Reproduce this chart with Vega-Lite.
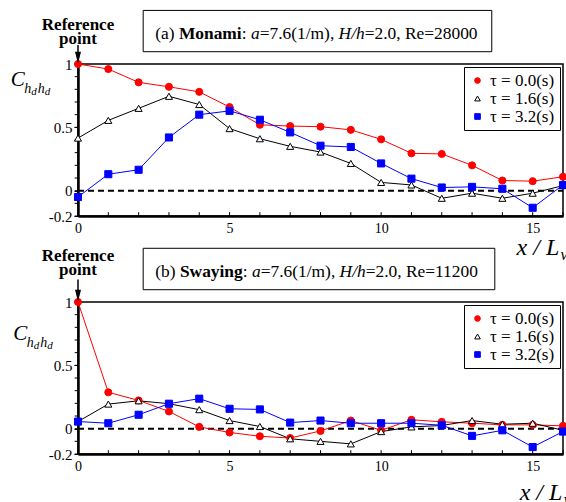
{
  "$schema": "https://vega.github.io/schema/vega-lite/v6.json",
  "padding": {"left": 9, "top": 9, "right": 0, "bottom": 0},
  "config": {
    "font": "Liberation Serif",
    "view": {"stroke": "black", "strokeWidth": 1.5},
    "axis": {"labelFont": "Liberation Serif", "labelColor": "black", "domainColor": "black", "tickColor": "black", "grid": false, "title": null, "domainWidth": 2.5, "labelFlush": false},
    "legend": {"strokeColor": "black", "fillColor": "white", "padding": 5, "labelFont": "Liberation Serif", "labelFontSize": 17, "labelColor": "black", "symbolSize": 32, "symbolStrokeWidth": 1, "rowPadding": 0}
  },
  "datasets": {
    "one": [{}],
    "xticks": [{"v": 0}, {"v": 1}, {"v": 2}, {"v": 3}, {"v": 4}, {"v": 5}, {"v": 6}, {"v": 7}, {"v": 8}, {"v": 9}, {"v": 10}, {"v": 11}, {"v": 12}, {"v": 13}, {"v": 14}, {"v": 15}, {"v": 16}],
    "yticks": [{"v": -0.2}, {"v": -0.1}, {"v": 0}, {"v": 0.1}, {"v": 0.2}, {"v": 0.3}, {"v": 0.4}, {"v": 0.5}, {"v": 0.6}, {"v": 0.7}, {"v": 0.8}, {"v": 0.9}, {"v": 1}],
    "curves": [
      {"panel": "a", "series": "τ = 0.0(s)", "x": 0, "y": 1.0},
      {"panel": "a", "series": "τ = 0.0(s)", "x": 1, "y": 0.96},
      {"panel": "a", "series": "τ = 0.0(s)", "x": 2, "y": 0.855},
      {"panel": "a", "series": "τ = 0.0(s)", "x": 3, "y": 0.82},
      {"panel": "a", "series": "τ = 0.0(s)", "x": 4, "y": 0.78},
      {"panel": "a", "series": "τ = 0.0(s)", "x": 5, "y": 0.66},
      {"panel": "a", "series": "τ = 0.0(s)", "x": 6, "y": 0.52},
      {"panel": "a", "series": "τ = 0.0(s)", "x": 7, "y": 0.51},
      {"panel": "a", "series": "τ = 0.0(s)", "x": 8, "y": 0.505},
      {"panel": "a", "series": "τ = 0.0(s)", "x": 9, "y": 0.48},
      {"panel": "a", "series": "τ = 0.0(s)", "x": 10, "y": 0.405},
      {"panel": "a", "series": "τ = 0.0(s)", "x": 11, "y": 0.295},
      {"panel": "a", "series": "τ = 0.0(s)", "x": 12, "y": 0.29},
      {"panel": "a", "series": "τ = 0.0(s)", "x": 13, "y": 0.2},
      {"panel": "a", "series": "τ = 0.0(s)", "x": 14, "y": 0.08},
      {"panel": "a", "series": "τ = 0.0(s)", "x": 15, "y": 0.075},
      {"panel": "a", "series": "τ = 0.0(s)", "x": 16, "y": 0.11},
      {"panel": "a", "series": "τ = 1.6(s)", "x": 0, "y": 0.415},
      {"panel": "a", "series": "τ = 1.6(s)", "x": 1, "y": 0.555},
      {"panel": "a", "series": "τ = 1.6(s)", "x": 2, "y": 0.65},
      {"panel": "a", "series": "τ = 1.6(s)", "x": 3, "y": 0.745},
      {"panel": "a", "series": "τ = 1.6(s)", "x": 4, "y": 0.68},
      {"panel": "a", "series": "τ = 1.6(s)", "x": 5, "y": 0.49},
      {"panel": "a", "series": "τ = 1.6(s)", "x": 6, "y": 0.41},
      {"panel": "a", "series": "τ = 1.6(s)", "x": 7, "y": 0.35},
      {"panel": "a", "series": "τ = 1.6(s)", "x": 8, "y": 0.305},
      {"panel": "a", "series": "τ = 1.6(s)", "x": 9, "y": 0.215},
      {"panel": "a", "series": "τ = 1.6(s)", "x": 10, "y": 0.065},
      {"panel": "a", "series": "τ = 1.6(s)", "x": 11, "y": 0.045},
      {"panel": "a", "series": "τ = 1.6(s)", "x": 12, "y": -0.06},
      {"panel": "a", "series": "τ = 1.6(s)", "x": 13, "y": -0.02},
      {"panel": "a", "series": "τ = 1.6(s)", "x": 14, "y": -0.06},
      {"panel": "a", "series": "τ = 1.6(s)", "x": 15, "y": -0.02},
      {"panel": "a", "series": "τ = 1.6(s)", "x": 16, "y": 0.04},
      {"panel": "a", "series": "τ = 3.2(s)", "x": 0, "y": -0.05},
      {"panel": "a", "series": "τ = 3.2(s)", "x": 1, "y": 0.13},
      {"panel": "a", "series": "τ = 3.2(s)", "x": 2, "y": 0.165},
      {"panel": "a", "series": "τ = 3.2(s)", "x": 3, "y": 0.42},
      {"panel": "a", "series": "τ = 3.2(s)", "x": 4, "y": 0.6},
      {"panel": "a", "series": "τ = 3.2(s)", "x": 5, "y": 0.63},
      {"panel": "a", "series": "τ = 3.2(s)", "x": 6, "y": 0.56},
      {"panel": "a", "series": "τ = 3.2(s)", "x": 7, "y": 0.46},
      {"panel": "a", "series": "τ = 3.2(s)", "x": 8, "y": 0.355},
      {"panel": "a", "series": "τ = 3.2(s)", "x": 9, "y": 0.345},
      {"panel": "a", "series": "τ = 3.2(s)", "x": 10, "y": 0.215},
      {"panel": "a", "series": "τ = 3.2(s)", "x": 11, "y": 0.095},
      {"panel": "a", "series": "τ = 3.2(s)", "x": 12, "y": 0.025},
      {"panel": "a", "series": "τ = 3.2(s)", "x": 13, "y": 0.03},
      {"panel": "a", "series": "τ = 3.2(s)", "x": 14, "y": 0.015},
      {"panel": "a", "series": "τ = 3.2(s)", "x": 15, "y": -0.135},
      {"panel": "a", "series": "τ = 3.2(s)", "x": 16, "y": 0.045},
      {"panel": "b", "series": "τ = 0.0(s)", "x": 0, "y": 1.0},
      {"panel": "b", "series": "τ = 0.0(s)", "x": 1, "y": 0.287},
      {"panel": "b", "series": "τ = 0.0(s)", "x": 2, "y": 0.223},
      {"panel": "b", "series": "τ = 0.0(s)", "x": 3, "y": 0.136},
      {"panel": "b", "series": "τ = 0.0(s)", "x": 4, "y": 0.014},
      {"panel": "b", "series": "τ = 0.0(s)", "x": 5, "y": -0.03},
      {"panel": "b", "series": "τ = 0.0(s)", "x": 6, "y": -0.06},
      {"panel": "b", "series": "τ = 0.0(s)", "x": 7, "y": -0.074},
      {"panel": "b", "series": "τ = 0.0(s)", "x": 8, "y": -0.018},
      {"panel": "b", "series": "τ = 0.0(s)", "x": 9, "y": 0.064},
      {"panel": "b", "series": "τ = 0.0(s)", "x": 10, "y": -0.013},
      {"panel": "b", "series": "τ = 0.0(s)", "x": 11, "y": 0.07},
      {"panel": "b", "series": "τ = 0.0(s)", "x": 12, "y": 0.054},
      {"panel": "b", "series": "τ = 0.0(s)", "x": 13, "y": 0.043},
      {"panel": "b", "series": "τ = 0.0(s)", "x": 14, "y": 0.03},
      {"panel": "b", "series": "τ = 0.0(s)", "x": 15, "y": 0.03},
      {"panel": "b", "series": "τ = 0.0(s)", "x": 16, "y": 0.022},
      {"panel": "b", "series": "τ = 1.6(s)", "x": 0, "y": 0.056},
      {"panel": "b", "series": "τ = 1.6(s)", "x": 1, "y": 0.194},
      {"panel": "b", "series": "τ = 1.6(s)", "x": 2, "y": 0.22},
      {"panel": "b", "series": "τ = 1.6(s)", "x": 3, "y": 0.197},
      {"panel": "b", "series": "τ = 1.6(s)", "x": 4, "y": 0.15},
      {"panel": "b", "series": "τ = 1.6(s)", "x": 5, "y": 0.064},
      {"panel": "b", "series": "τ = 1.6(s)", "x": 6, "y": 0.017},
      {"panel": "b", "series": "τ = 1.6(s)", "x": 7, "y": -0.08},
      {"panel": "b", "series": "τ = 1.6(s)", "x": 8, "y": -0.1},
      {"panel": "b", "series": "τ = 1.6(s)", "x": 9, "y": -0.12},
      {"panel": "b", "series": "τ = 1.6(s)", "x": 10, "y": -0.023},
      {"panel": "b", "series": "τ = 1.6(s)", "x": 11, "y": 0.014},
      {"panel": "b", "series": "τ = 1.6(s)", "x": 12, "y": 0.025},
      {"panel": "b", "series": "τ = 1.6(s)", "x": 13, "y": 0.064},
      {"panel": "b", "series": "τ = 1.6(s)", "x": 14, "y": 0.035},
      {"panel": "b", "series": "τ = 1.6(s)", "x": 15, "y": 0.043},
      {"panel": "b", "series": "τ = 1.6(s)", "x": 16, "y": -0.013},
      {"panel": "b", "series": "τ = 3.2(s)", "x": 0, "y": 0.056},
      {"panel": "b", "series": "τ = 3.2(s)", "x": 1, "y": 0.043},
      {"panel": "b", "series": "τ = 3.2(s)", "x": 2, "y": 0.11},
      {"panel": "b", "series": "τ = 3.2(s)", "x": 3, "y": 0.197},
      {"panel": "b", "series": "τ = 3.2(s)", "x": 4, "y": 0.237},
      {"panel": "b", "series": "τ = 3.2(s)", "x": 5, "y": 0.157},
      {"panel": "b", "series": "τ = 3.2(s)", "x": 6, "y": 0.152},
      {"panel": "b", "series": "τ = 3.2(s)", "x": 7, "y": 0.048},
      {"panel": "b", "series": "τ = 3.2(s)", "x": 8, "y": 0.064},
      {"panel": "b", "series": "τ = 3.2(s)", "x": 9, "y": 0.043},
      {"panel": "b", "series": "τ = 3.2(s)", "x": 10, "y": 0.043},
      {"panel": "b", "series": "τ = 3.2(s)", "x": 11, "y": 0.043},
      {"panel": "b", "series": "τ = 3.2(s)", "x": 12, "y": 0.027},
      {"panel": "b", "series": "τ = 3.2(s)", "x": 13, "y": -0.057},
      {"panel": "b", "series": "τ = 3.2(s)", "x": 14, "y": -0.013},
      {"panel": "b", "series": "τ = 3.2(s)", "x": 15, "y": -0.145},
      {"panel": "b", "series": "τ = 3.2(s)", "x": 16, "y": -0.023}
    ]
  },
  "spacing": 86,
  "bounds": "flush",
  "resolve": {
    "scale": {"x": "independent", "y": "independent", "color": "independent", "fill": "independent", "stroke": "independent", "shape": "independent"},
    "legend": {"color": "independent", "fill": "independent", "stroke": "independent", "shape": "independent"}
  },
  "vconcat": [
    {
      "width": 485,
      "height": 152,
      "layer": [
        {"data": {"name": "one"}, "mark": {"type": "rule", "stroke": "black", "strokeWidth": 2, "strokeDash": [6, 4]},
         "encoding": {"x": {"datum": 0}, "x2": {"datum": 16}, "y": {"datum": 0}}},
        {"data": {"name": "xticks"}, "mark": {"type": "rule", "stroke": "black", "strokeWidth": 1},
         "encoding": {"x": {"field": "v", "type": "quantitative"}, "y": {"datum": -0.2}, "y2": {"datum": -0.17}}},
        {"data": {"name": "yticks"}, "mark": {"type": "rule", "stroke": "black", "strokeWidth": 1, "clip": false},
         "encoding": {"y": {"field": "v", "type": "quantitative"}, "x": {"datum": 0}, "x2": {"datum": -0.11}}},
        {"data": {"name": "curves"}, "transform": [{"filter": "datum.panel == 'a'"}],
         "mark": {"type": "line", "strokeWidth": 1, "clip": false},
         "encoding": {
           "x": {"field": "x", "type": "quantitative", "scale": {"domain": [0, 16], "nice": false, "zero": false},
                 "axis": {"values": [0, 5, 10, 15], "ticks": false, "labelFontSize": 14, "labelPadding": 5}},
           "y": {"field": "y", "type": "quantitative", "scale": {"domain": [-0.2, 1], "nice": false, "zero": false},
                 "axis": {"values": [-0.2, 0, 0.5, 1], "labelExpr": "datum.value < -0.1 ? '-0.2' : datum.value < 0.2 ? '0' : datum.value < 0.7 ? '0.5' : '1'", "tickSize": 4, "labelFontSize": 15, "labelPadding": 2}},
           "color": {"field": "series", "type": "nominal", "scale": {"domain": ["τ = 3.2(s)", "τ = 1.6(s)", "τ = 0.0(s)"], "range": ["#0000ff", "#000000", "#ff0000"]}, "legend": null}
         }},
        {"data": {"name": "curves"}, "transform": [{"filter": "datum.panel == 'a'"}],
         "mark": {"type": "point", "filled": true, "strokeWidth": 1, "size": 50, "opacity": 1, "clip": false},
         "encoding": {
           "x": {"field": "x", "type": "quantitative"},
           "y": {"field": "y", "type": "quantitative"},
           "fill": {"field": "series", "type": "nominal", "title": null, "scale": {"domain": ["τ = 0.0(s)", "τ = 1.6(s)", "τ = 3.2(s)"], "range": ["#ff0000", "#ffffff", "#0000ff"]}, "legend": {"orient": "top-right", "offset": 3, "title": null}},
           "stroke": {"field": "series", "type": "nominal", "title": null, "scale": {"domain": ["τ = 0.0(s)", "τ = 1.6(s)", "τ = 3.2(s)"], "range": ["#ff0000", "#000000", "#0000ff"]}, "legend": {"orient": "top-right", "offset": 3, "title": null}},
           "shape": {"field": "series", "type": "nominal", "title": null, "scale": {"domain": ["τ = 0.0(s)", "τ = 1.6(s)", "τ = 3.2(s)"], "range": ["circle", "triangle-up", "square"]}, "legend": {"orient": "top-right", "offset": 3, "title": null}}
         }},
        {"data": {"name": "one"}, "mark": {"type": "rect", "filled": false, "stroke": "black", "strokeWidth": 1, "clip": false},
         "encoding": {"x": {"datum": 2.15}, "x2": {"datum": 13.65}, "y": {"datum": 1.423}, "y2": {"datum": 1.097}}},
        {"data": {"name": "one"}, "mark": {"type": "text", "text": "(a) ", "align": "left", "baseline": "alphabetic", "fontSize": 17.4, "dx": 0},
         "encoding": {"x": {"datum": 2.55}, "y": {"datum": 1.2}}},
        {"data": {"name": "one"}, "mark": {"type": "text", "text": "Monami", "align": "left", "baseline": "alphabetic", "fontSize": 17.4, "fontWeight": "bold", "dx": 23.6},
         "encoding": {"x": {"datum": 2.55}, "y": {"datum": 1.2}}},
        {"data": {"name": "one"}, "mark": {"type": "text", "text": ": ", "align": "left", "baseline": "alphabetic", "fontSize": 17.4, "dx": 86.5},
         "encoding": {"x": {"datum": 2.55}, "y": {"datum": 1.2}}},
        {"data": {"name": "one"}, "mark": {"type": "text", "text": "a", "align": "left", "baseline": "alphabetic", "fontSize": 17.4, "fontStyle": "italic", "dx": 95.7},
         "encoding": {"x": {"datum": 2.55}, "y": {"datum": 1.2}}},
        {"data": {"name": "one"}, "mark": {"type": "text", "text": "=7.6(1/m), ", "align": "left", "baseline": "alphabetic", "fontSize": 17.4, "dx": 104.4},
         "encoding": {"x": {"datum": 2.55}, "y": {"datum": 1.2}}},
        {"data": {"name": "one"}, "mark": {"type": "text", "text": "H/h", "align": "left", "baseline": "alphabetic", "fontSize": 17.4, "fontStyle": "italic", "dx": 183.3},
         "encoding": {"x": {"datum": 2.55}, "y": {"datum": 1.2}}},
        {"data": {"name": "one"}, "mark": {"type": "text", "text": "=2.0, Re=28000", "align": "left", "baseline": "alphabetic", "fontSize": 17.4, "dx": 209.4},
         "encoding": {"x": {"datum": 2.55}, "y": {"datum": 1.2}}},
        {"data": {"name": "one"}, "mark": {"type": "text", "text": ["Reference", "point"], "lineHeight": 14, "align": "center", "baseline": "alphabetic", "fontSize": 17, "fontWeight": "bold"},
         "encoding": {"x": {"datum": 0}, "y": {"datum": 1.272}}},
        {"data": {"name": "one"}, "mark": {"type": "rule", "stroke": "black", "strokeWidth": 1.5},
         "encoding": {"x": {"datum": 0}, "y": {"datum": 1.15}, "y2": {"datum": 1.05}}},
        {"data": {"name": "one"}, "mark": {"type": "point", "shape": "M-0.5,-1L0.5,-1L0,1Z", "filled": true, "fill": "black", "stroke": null, "size": 144, "opacity": 1, "clip": false},
         "encoding": {"x": {"datum": 0}, "y": {"datum": 1.05}}},
        {"data": {"name": "one"}, "mark": {"type": "text", "text": "C", "align": "left", "baseline": "alphabetic", "fontSize": 21, "fontStyle": "italic"},
         "encoding": {"x": {"datum": -2.22}, "y": {"datum": 0.827}}},
        {"data": {"name": "one"}, "mark": {"type": "text", "text": "h", "align": "left", "baseline": "alphabetic", "fontSize": 14, "fontStyle": "italic", "dx": 13.5, "dy": 7},
         "encoding": {"x": {"datum": -2.22}, "y": {"datum": 0.827}}},
        {"data": {"name": "one"}, "mark": {"type": "text", "text": "d", "align": "left", "baseline": "alphabetic", "fontSize": 11, "fontStyle": "italic", "dx": 20.5, "dy": 9},
         "encoding": {"x": {"datum": -2.22}, "y": {"datum": 0.827}}},
        {"data": {"name": "one"}, "mark": {"type": "text", "text": "h", "align": "left", "baseline": "alphabetic", "fontSize": 14, "fontStyle": "italic", "dx": 27, "dy": 7},
         "encoding": {"x": {"datum": -2.22}, "y": {"datum": 0.827}}},
        {"data": {"name": "one"}, "mark": {"type": "text", "text": "d", "align": "left", "baseline": "alphabetic", "fontSize": 11, "fontStyle": "italic", "dx": 34, "dy": 9},
         "encoding": {"x": {"datum": -2.22}, "y": {"datum": 0.827}}},
        {"data": {"name": "one"}, "mark": {"type": "text", "text": "x / L", "align": "left", "baseline": "alphabetic", "fontSize": 24, "fontStyle": "italic"},
         "encoding": {"x": {"datum": 14.47}, "y": {"datum": -0.51}}},
        {"data": {"name": "one"}, "mark": {"type": "text", "text": "v", "align": "left", "baseline": "alphabetic", "fontSize": 16, "fontStyle": "italic", "dx": 44, "dy": 5},
         "encoding": {"x": {"datum": 14.47}, "y": {"datum": -0.51}}}
      ]
    },
    {
      "width": 485,
      "height": 152,
      "layer": [
        {"data": {"name": "one"}, "mark": {"type": "rule", "stroke": "black", "strokeWidth": 2, "strokeDash": [6, 4]},
         "encoding": {"x": {"datum": 0}, "x2": {"datum": 16}, "y": {"datum": 0}}},
        {"data": {"name": "xticks"}, "mark": {"type": "rule", "stroke": "black", "strokeWidth": 1},
         "encoding": {"x": {"field": "v", "type": "quantitative"}, "y": {"datum": -0.2}, "y2": {"datum": -0.17}}},
        {"data": {"name": "yticks"}, "mark": {"type": "rule", "stroke": "black", "strokeWidth": 1, "clip": false},
         "encoding": {"y": {"field": "v", "type": "quantitative"}, "x": {"datum": 0}, "x2": {"datum": -0.11}}},
        {"data": {"name": "curves"}, "transform": [{"filter": "datum.panel == 'b'"}],
         "mark": {"type": "line", "strokeWidth": 1, "clip": false},
         "encoding": {
           "x": {"field": "x", "type": "quantitative", "scale": {"domain": [0, 16], "nice": false, "zero": false},
                 "axis": {"values": [0, 5, 10, 15], "ticks": false, "labelFontSize": 14, "labelPadding": 5}},
           "y": {"field": "y", "type": "quantitative", "scale": {"domain": [-0.2, 1], "nice": false, "zero": false},
                 "axis": {"values": [-0.2, 0, 0.5, 1], "labelExpr": "datum.value < -0.1 ? '-0.2' : datum.value < 0.2 ? '0' : datum.value < 0.7 ? '0.5' : '1'", "tickSize": 4, "labelFontSize": 15, "labelPadding": 2}},
           "color": {"field": "series", "type": "nominal", "scale": {"domain": ["τ = 3.2(s)", "τ = 1.6(s)", "τ = 0.0(s)"], "range": ["#0000ff", "#000000", "#ff0000"]}, "legend": null}
         }},
        {"data": {"name": "curves"}, "transform": [{"filter": "datum.panel == 'b'"}],
         "mark": {"type": "point", "filled": true, "strokeWidth": 1, "size": 50, "opacity": 1, "clip": false},
         "encoding": {
           "x": {"field": "x", "type": "quantitative"},
           "y": {"field": "y", "type": "quantitative"},
           "fill": {"field": "series", "type": "nominal", "title": null, "scale": {"domain": ["τ = 0.0(s)", "τ = 1.6(s)", "τ = 3.2(s)"], "range": ["#ff0000", "#ffffff", "#0000ff"]}, "legend": {"orient": "top-right", "offset": 3, "title": null}},
           "stroke": {"field": "series", "type": "nominal", "title": null, "scale": {"domain": ["τ = 0.0(s)", "τ = 1.6(s)", "τ = 3.2(s)"], "range": ["#ff0000", "#000000", "#0000ff"]}, "legend": {"orient": "top-right", "offset": 3, "title": null}},
           "shape": {"field": "series", "type": "nominal", "title": null, "scale": {"domain": ["τ = 0.0(s)", "τ = 1.6(s)", "τ = 3.2(s)"], "range": ["circle", "triangle-up", "square"]}, "legend": {"orient": "top-right", "offset": 3, "title": null}}
         }},
        {"data": {"name": "one"}, "mark": {"type": "rect", "filled": false, "stroke": "black", "strokeWidth": 1, "clip": false},
         "encoding": {"x": {"datum": 2.15}, "x2": {"datum": 13.75}, "y": {"datum": 1.424}, "y2": {"datum": 1.097}}},
        {"data": {"name": "one"}, "mark": {"type": "text", "text": "(b) ", "align": "left", "baseline": "alphabetic", "fontSize": 17.4, "dx": 0},
         "encoding": {"x": {"datum": 2.55}, "y": {"datum": 1.196}}},
        {"data": {"name": "one"}, "mark": {"type": "text", "text": "Swaying", "align": "left", "baseline": "alphabetic", "fontSize": 17.4, "fontWeight": "bold", "dx": 24.6},
         "encoding": {"x": {"datum": 2.55}, "y": {"datum": 1.196}}},
        {"data": {"name": "one"}, "mark": {"type": "text", "text": ": ", "align": "left", "baseline": "alphabetic", "fontSize": 17.4, "dx": 87.5},
         "encoding": {"x": {"datum": 2.55}, "y": {"datum": 1.196}}},
        {"data": {"name": "one"}, "mark": {"type": "text", "text": "a", "align": "left", "baseline": "alphabetic", "fontSize": 17.4, "fontStyle": "italic", "dx": 96.7},
         "encoding": {"x": {"datum": 2.55}, "y": {"datum": 1.196}}},
        {"data": {"name": "one"}, "mark": {"type": "text", "text": "=7.6(1/m), ", "align": "left", "baseline": "alphabetic", "fontSize": 17.4, "dx": 105.4},
         "encoding": {"x": {"datum": 2.55}, "y": {"datum": 1.196}}},
        {"data": {"name": "one"}, "mark": {"type": "text", "text": "H/h", "align": "left", "baseline": "alphabetic", "fontSize": 17.4, "fontStyle": "italic", "dx": 184.3},
         "encoding": {"x": {"datum": 2.55}, "y": {"datum": 1.196}}},
        {"data": {"name": "one"}, "mark": {"type": "text", "text": "=2.0, Re=11200", "align": "left", "baseline": "alphabetic", "fontSize": 17.4, "dx": 210.4},
         "encoding": {"x": {"datum": 2.55}, "y": {"datum": 1.196}}},
        {"data": {"name": "one"}, "mark": {"type": "text", "text": ["Reference", "point"], "lineHeight": 14, "align": "center", "baseline": "alphabetic", "fontSize": 17, "fontWeight": "bold"},
         "encoding": {"x": {"datum": 0}, "y": {"datum": 1.322}}},
        {"data": {"name": "one"}, "mark": {"type": "rule", "stroke": "black", "strokeWidth": 1.5},
         "encoding": {"x": {"datum": 0}, "y": {"datum": 1.177}, "y2": {"datum": 1.05}}},
        {"data": {"name": "one"}, "mark": {"type": "point", "shape": "M-0.5,-1L0.5,-1L0,1Z", "filled": true, "fill": "black", "stroke": null, "size": 144, "opacity": 1, "clip": false},
         "encoding": {"x": {"datum": 0}, "y": {"datum": 1.05}}},
        {"data": {"name": "one"}, "mark": {"type": "text", "text": "C", "align": "left", "baseline": "alphabetic", "fontSize": 21, "fontStyle": "italic"},
         "encoding": {"x": {"datum": -2.14}, "y": {"datum": 0.7}}},
        {"data": {"name": "one"}, "mark": {"type": "text", "text": "h", "align": "left", "baseline": "alphabetic", "fontSize": 14, "fontStyle": "italic", "dx": 13.5, "dy": 7},
         "encoding": {"x": {"datum": -2.14}, "y": {"datum": 0.7}}},
        {"data": {"name": "one"}, "mark": {"type": "text", "text": "d", "align": "left", "baseline": "alphabetic", "fontSize": 11, "fontStyle": "italic", "dx": 20.5, "dy": 9},
         "encoding": {"x": {"datum": -2.14}, "y": {"datum": 0.7}}},
        {"data": {"name": "one"}, "mark": {"type": "text", "text": "h", "align": "left", "baseline": "alphabetic", "fontSize": 14, "fontStyle": "italic", "dx": 27, "dy": 7},
         "encoding": {"x": {"datum": -2.14}, "y": {"datum": 0.7}}},
        {"data": {"name": "one"}, "mark": {"type": "text", "text": "d", "align": "left", "baseline": "alphabetic", "fontSize": 11, "fontStyle": "italic", "dx": 34, "dy": 9},
         "encoding": {"x": {"datum": -2.14}, "y": {"datum": 0.7}}},
        {"data": {"name": "one"}, "mark": {"type": "text", "text": "x / L", "align": "left", "baseline": "alphabetic", "fontSize": 24, "fontStyle": "italic"},
         "encoding": {"x": {"datum": 14.57}, "y": {"datum": -0.564}}},
        {"data": {"name": "one"}, "mark": {"type": "text", "text": "v", "align": "left", "baseline": "alphabetic", "fontSize": 16, "fontStyle": "italic", "dx": 44, "dy": 5},
         "encoding": {"x": {"datum": 14.57}, "y": {"datum": -0.564}}}
      ]
    }
  ]
}
